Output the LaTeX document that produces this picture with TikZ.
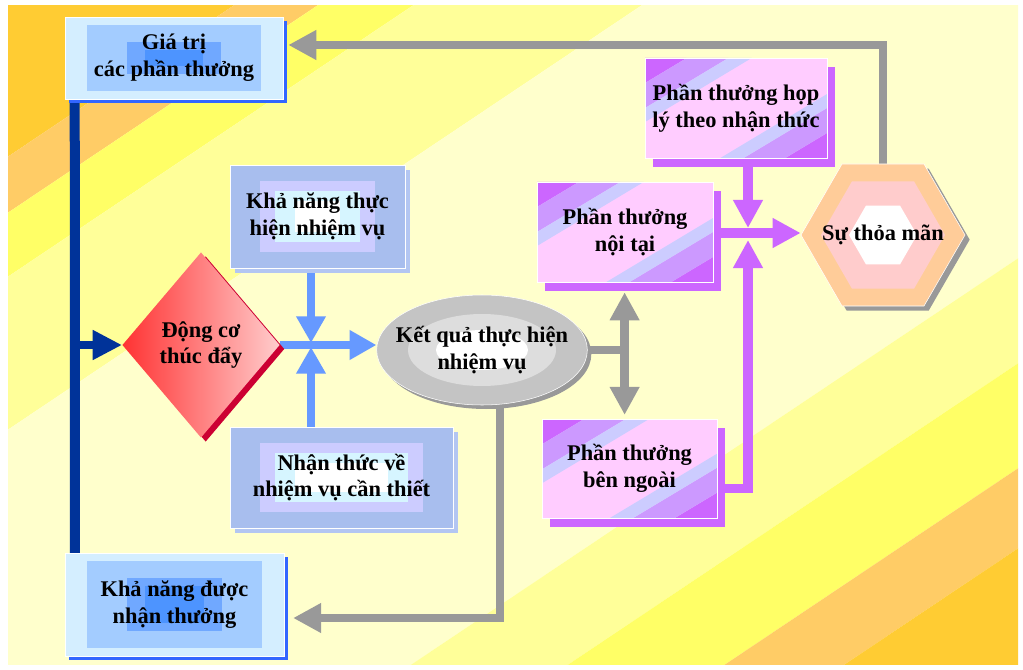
\documentclass[tikz,border=0pt]{standalone}
\usepackage{fontspec}
\setmainfont{Liberation Serif}
\usepackage{tikz}
\usetikzlibrary{backgrounds,calc,shapes.geometric,arrows.meta,shadows}
\pgfdeclarelayer{backdrop}
\pgfsetlayers{backdrop,background,main}

\definecolor{bgorange}{HTML}{FFCC33}
\definecolor{bglightor}{HTML}{FFCC66}
\definecolor{bgyellow}{HTML}{FFFF66}
\definecolor{bgpale}{HTML}{FFFF99}
\definecolor{bgcream}{HTML}{FFFFCC}
\definecolor{cyanpale}{HTML}{D4EEFF}
\definecolor{bluemid}{HTML}{A3CCFF}
\definecolor{blueinner}{HTML}{70A8FF}
\definecolor{bluecore}{HTML}{4D94FF}
\definecolor{shadeblue}{HTML}{3366FF}
\definecolor{bluedot}{HTML}{A8BEEE}
\definecolor{lavmid}{HTML}{CCCCFF}
\definecolor{cyanlt}{HTML}{D6F5FF}
\definecolor{shadelav}{HTML}{B3C6F2}
\definecolor{purp}{HTML}{CC66FF}
\definecolor{lavb}{HTML}{CC99FF}
\definecolor{lavc}{HTML}{CCCCFF}
\definecolor{pinkc}{HTML}{FFCCFF}
\definecolor{redA}{HTML}{FF3333}
\definecolor{redB}{HTML}{FF9999}
\definecolor{redC}{HTML}{FFCCCC}
\definecolor{redshade}{HTML}{CC0033}
\definecolor{grayA}{HTML}{C4C4C4}
\definecolor{grayB}{HTML}{DDDDDD}
\definecolor{grayC}{HTML}{999999}
\definecolor{peach}{HTML}{FFCC99}
\definecolor{pinkhex}{HTML}{FFCCCC}
\definecolor{navy}{HTML}{003399}
\definecolor{cornflower}{HTML}{6699FF}

\newcommand\boxfont{\fontsize{16.8}{20}\selectfont\bfseries}

\begin{document}
\begin{tikzpicture}[x=0.75pt,y=-0.75pt,line join=miter]
  \tikzstyle{valbox} = [rectangle,fill=cyanpale,draw=white,thin,inner sep=0pt,align=center,font=\boxfont,
    drop shadow={shadow xshift=3pt,shadow yshift=-3pt,fill=shadeblue,opacity=1},
    path picture={
      \fill[bluemid] ($(path picture bounding box.north west)+(22,8)$) rectangle ($(path picture bounding box.south east)+(-22,-8)$);
      \fill[blueinner] ($(path picture bounding box.north west)+(62,25)$) rectangle ($(path picture bounding box.south east)+(-62,-25)$);
      \fill[bluecore] ($(path picture bounding box.north west)+(80,33)$) rectangle ($(path picture bounding box.south east)+(-80,-33)$);
    }]
  \tikzstyle{taskbox} = [rectangle,fill=bluedot,draw=white,thin,inner sep=0pt,align=center,font=\boxfont,
    drop shadow={shadow xshift=3.5pt,shadow yshift=-3.5pt,fill=shadelav,opacity=1},
    path picture={
      \fill[lavmid] ($(path picture bounding box.north west)+(30,16)$) rectangle ($(path picture bounding box.south east)+(-30,-16)$);
      \fill[cyanlt] ($(path picture bounding box.north west)+(45,26)$) rectangle ($(path picture bounding box.south east)+(-45,-26)$);
      \fill[white] ($(path picture bounding box.north west)+(65,36)$) rectangle ($(path picture bounding box.south east)+(-65,-36)$);
    }]
  % corner bands of the reward boxes, slope 0.6
  \tikzstyle{rewbox} = [rectangle,draw=white,thin,fill=pinkc,inner sep=0pt,align=center,font=\boxfont,
    drop shadow={shadow xshift=6pt,shadow yshift=-6.5pt,fill=purp,opacity=1},
    path picture={
      \foreach \ua/\ub/\col in {0/25/purp,25/50/lavb,50/64/lavc}{
        \fill[\col] ($(path picture bounding box.north west)+(0,\ua)$) -- ($(path picture bounding box.north west)+({\ua/0.6},0)$)
          -- ($(path picture bounding box.north west)+({\ub/0.6},0)$) -- ($(path picture bounding box.north west)+(0,\ub)$) -- cycle;
        \fill[\col] ($(path picture bounding box.south east)+(0,-\ua)$) -- ($(path picture bounding box.south east)+({-\ua/0.6},0)$)
          -- ($(path picture bounding box.south east)+({-\ub/0.6},0)$) -- ($(path picture bounding box.south east)+(0,-\ub)$) -- cycle;
      }
    }]
  \tikzstyle{drivenode} = [diamond,minimum width=118pt,minimum height=139pt,inner sep=0pt,align=center,font=\boxfont,
    shading=axis,left color=redA,middle color=redB,right color=redC,
    drop shadow={shadow xshift=3.5pt,shadow yshift=-3pt,fill=redshade,opacity=1}]
  \tikzstyle{resnode} = [ellipse,minimum width=158pt,minimum height=82.5pt,inner xsep=-14pt,inner ysep=0pt,align=center,font=\boxfont,
    fill=grayA,draw=white,thin,
    drop shadow={shadow xshift=3pt,shadow yshift=-3pt,fill=grayC,opacity=1},
    path picture={
      \fill[grayB] (path picture bounding box.center) ellipse [x radius=74, y radius=36];
      \fill[white] (path picture bounding box.center) ellipse [x radius=46, y radius=20];
    }]
  \tikzstyle{hexnode} = [regular polygon,regular polygon sides=6,minimum size=123pt,inner sep=-20pt,font=\boxfont,
    fill=peach,draw=white,thin,
    drop shadow={shadow xshift=3.5pt,shadow yshift=-3.5pt,fill=grayC,opacity=1},
    path picture={
      \fill[pinkhex] ($(path picture bounding box.center)+(0:62)$)
        \foreach \k in {1,...,5}{ -- ($(path picture bounding box.center)+(\k*60:62)$)} -- cycle;
      \fill[white] ($(path picture bounding box.center)+(0:34)$)
        \foreach \k in {1,...,5}{ -- ($(path picture bounding box.center)+(\k*60:34)$)} -- cycle;
    }]
  \tikzstyle{navyline} = [draw=navy,line width=7.5pt]
  \tikzstyle{navyarrow} = [draw=navy,line width=6pt,-{Triangle[length=22pt,width=21pt]}]
  \tikzstyle{bluearrow} = [draw=cornflower,line width=6.5pt,-{Triangle[length=20pt,width=21pt]}]
  \tikzstyle{grayline} = [draw=grayC,line width=6.5pt]
  \tikzstyle{grayarrow} = [draw=grayC,line width=6.5pt,-{Triangle[length=21pt,width=21pt]}]
  \tikzstyle{purparrow} = [draw=purp,line width=7pt,-{Triangle[length=21pt,width=21pt]}]
  %
  \useasboundingbox (0,0) rectangle (1023,670);
  % Diagonal bands behind everything.
  \begin{pgfonlayer}{backdrop}
    \fill[white] (0,0) rectangle (1023,670);
    \begin{scope}
      \clip (8,6) rectangle (1018,664);
      \foreach \ua/\ub/\col in {-20/162/bgorange,162/218/bglightor,218/282/bgyellow,282/435/bgpale,
          435/940/bgcream,940/1045/bgpale,1045/1150/bgyellow,1150/1230/bglightor,1230/1500/bgorange}
        \fill[\col] (0,\ua) -- (1023,{\ua-685}) -- (1023,{\ub-685}) -- (0,\ub) -- cycle;
    \end{scope}
  \end{pgfonlayer}
  %
  % Left column.
  \node[valbox,minimum width=163.5pt,minimum height=61.5pt] (valrew) at (174,58) {Giá trị\\các phần thưởng};
  \node[valbox,minimum width=164pt,minimum height=77pt] (rewprob) at (174.5,604.5) {Khả năng được\\nhận thưởng};
  \node[drivenode] (drive) at (201,345) {Động cơ\\thúc đẩy};
  % Middle column.
  \node[taskbox,minimum width=131pt,minimum height=77pt] (ability) at (317.5,216.5) {Khả năng thực\\hiện nhiệm vụ};
  \node[taskbox,minimum width=167pt,minimum height=76pt] (roleperc) at (341.5,477.5) {Nhận thức về\\nhiệm vụ cần thiết};
  \node[resnode] (result) at (482,350) {Kết quả thực hiện\\nhiệm vụ};
  % Rewards.
  \node[rewbox,minimum width=136.5pt,minimum height=75pt] (equit) at (736,108) {Phần thưởng họp\\lý theo nhận thức};
  \node[rewbox,minimum width=132pt,minimum height=75pt] (intrinsic) at (625,232) {Phần thưởng\\nội tại};
  \node[rewbox,minimum width=131pt,minimum height=74pt] (extrinsic) at (629.5,468.5) {Phần thưởng\\bên ngoài};
  \node[hexnode] (sat) at (883,235) {Sự thỏa mãn};
  %
  % Junctions.
  \coordinate (nv) at ($(valrew.south west)+(10,0)$);
  \coordinate (bj) at (311,345);
  \coordinate (gj) at ($(result.east)+(37,0)$);
  \coordinate (gb) at (500,618);
  \coordinate (gt) at (883,45);
  \coordinate (pj) at (748,233);
  \begin{pgfonlayer}{background}
    \draw[navyline] (nv) -- ($(rewprob.north west)+(10,0)$);
    \draw[navyarrow] (drive.west -| nv) -- (drive.west);
    \draw[bluearrow] (drive.east) -- (drive.east -| result.west);
    \draw[bluearrow] (ability.south -| bj) -- ($(bj)+(0,-2)$);
    \draw[bluearrow] (roleperc.north -| bj) -- ($(bj)+(0,2)$);
    \draw[grayline] (result.east) -- (gj);
    \draw[grayarrow] (gj) -- ($(intrinsic.south -| gj)+(0,10)$);
    \draw[grayarrow] (gj) -- ($(extrinsic.north -| gj)+(0,-4)$);
    \draw[grayarrow] (result.center -| gb) -- (gb) -- ($(gb -| rewprob.east)+(9,0)$);
    \draw[grayarrow] (sat.center) -- (sat.center |- gt) -- ($(gt -| valrew.east)+(5,0)$);
    \draw[purparrow] (equit.south -| pj) -- ($(pj)+(0,-5)$);
    \draw[purparrow] (intrinsic.east |- pj) -- (pj -| sat.west);
    \draw[purparrow] ($(extrinsic.east)+(0,20)$) -| ($(pj)+(0,7)$);
  \end{pgfonlayer}
\end{tikzpicture}
\end{document}
